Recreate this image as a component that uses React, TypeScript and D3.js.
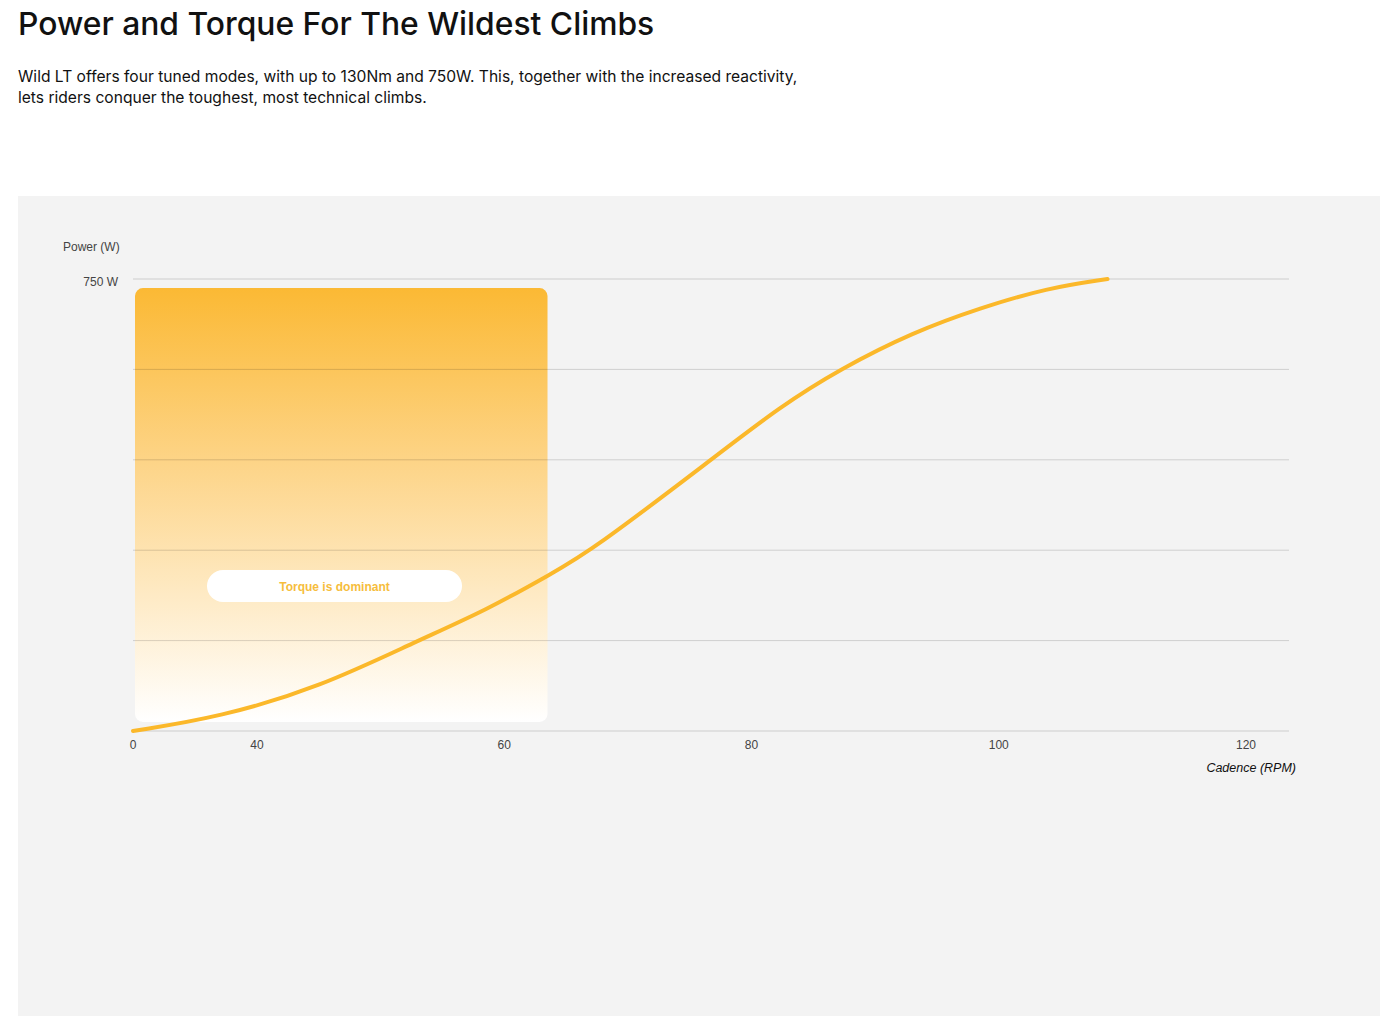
import React from "react";
import * as d3 from "d3";

const title = "Power and Torque For The Wildest Climbs";
const subtitleLines = [
  "Wild LT offers four tuned modes, with up to 130Nm and 750W. This, together with the increased reactivity,",
  "lets riders conquer the toughest, most technical climbs.",
];
const xTicks = [0, 40, 60, 80, 100, 120];
const yGrid = [0, 150, 300, 450, 600, 750];
const cadence = [0, 28.1, 45.1, 52.9, 58.6, 63.9, 67.1, 76.8, 82.3, 87.2, 93.1, 98.5, 103.9, 108.8];
const power = [0, 23, 73, 149, 201, 262, 300, 451, 538, 601, 662, 702, 735, 750];
const torqueZone = [0, 63.5];
const torqueZonePower = [15, 735];
const torqueLabel = "Torque is dominant";

const W = 1397;
const H = 1016;

export default function App() {
  const x = d3.scaleLinear().domain([0, 40, 120]).range([133, 257, 1246]);
  const y = d3.scaleLinear().domain([0, 750]).range([731, 279]);
  const pts = cadence.map((c, i) => [c, power[i]] as [number, number]);
  const line = d3
    .line<[number, number]>()
    .x((d) => x(d[0]))
    .y((d) => y(d[1]))
    .curve(d3.curveBasis);

  const zx0 = x(torqueZone[0]) + 2;
  const zx1 = x(torqueZone[1]);
  const zy0 = y(torqueZonePower[1]);
  const zy1 = y(torqueZonePower[0]);
  const font = "'Liberation Sans', Arial, Helvetica, sans-serif";
  const headFont = "Inter, 'Liberation Sans', Arial, sans-serif";

  return (
    <svg
      width={W}
      height={H}
      style={{ position: "absolute", left: 0, top: 0, display: "block" }}
      fontFamily={font}
    >
      <defs>
        <linearGradient id="tz" x1="0" y1="0" x2="0" y2="1">
          <stop offset="0" stopColor="#fbb934" />
          <stop offset="0.4" stopColor="#fdd487" />
          <stop offset="1" stopColor="#ffffff" />
        </linearGradient>
      </defs>
      <rect x={0} y={0} width={W} height={H} fill="#ffffff" />
      <text x={18} y={35} fontSize={31.8} fontWeight={500} fill="#111" fontFamily={headFont}>
        {title}
      </text>
      {subtitleLines.map((l, i) => (
        <text key={i} x={18} y={82 + i * 21} fontSize={15.6} fill="#111" fontFamily={headFont}>
          {l}
        </text>
      ))}
      <rect x={18} y={196} width={1362} height={H - 196} fill="#f3f3f3" />

      <rect x={zx0} y={zy0} width={zx1 - zx0} height={zy1 - zy0} rx={8} fill="url(#tz)" />

      {yGrid.map((v) => (
        <line key={v} x1={133} x2={1289} y1={y(v)} y2={y(v)} stroke="rgba(0,0,0,0.15)" strokeWidth={1} />
      ))}

      <rect x={207} y={570} width={255} height={32} rx={16} fill="#ffffff" />
      <text x={334.5} y={590.5} fontSize={12} fontWeight="bold" fill="#f6bd3c" textAnchor="middle">
        {torqueLabel}
      </text>

      <path d={line(pts) || ""} fill="none" stroke="#fbb82a" strokeWidth={4} strokeLinecap="round" />

      <text x={63} y={251} fontSize={12} fill="#444">
        Power (W)
      </text>
      <text x={118} y={286} fontSize={12} fill="#444" textAnchor="end">
        750 W
      </text>
      {xTicks.map((t) => (
        <text key={t} x={x(t)} y={749} fontSize={12} fill="#444" textAnchor="middle">
          {t}
        </text>
      ))}
      <text x={1296} y={772} fontSize={12.5} fontStyle="italic" fill="#111" textAnchor="end">
        Cadence (RPM)
      </text>
    </svg>
  );
}
